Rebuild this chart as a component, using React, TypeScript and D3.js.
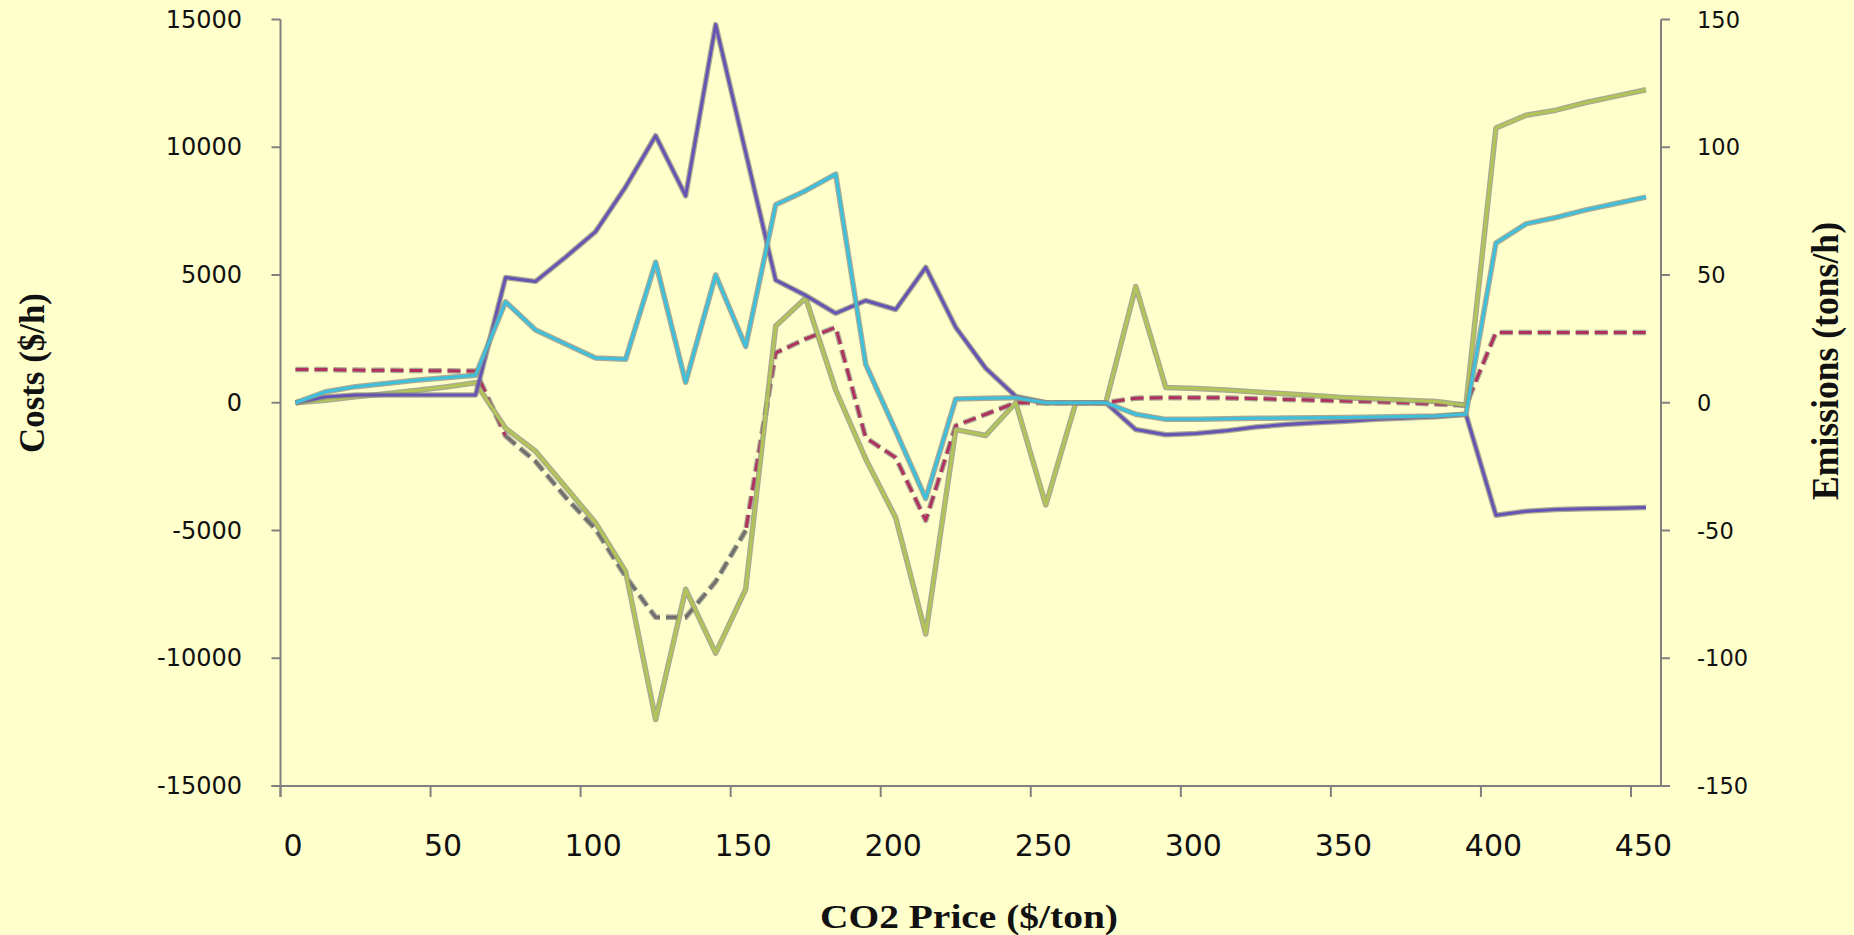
import React from "react";
import * as d3 from "d3";

// ---------- data ----------
const co2Price = [5, 15, 25, 35, 45, 55, 65, 75, 85, 95, 105, 115, 125, 135, 145, 155, 165, 175, 185, 195, 205, 215, 225, 235, 245, 255, 265, 275, 285, 295, 305, 315, 325, 335, 345, 355, 365, 375, 385, 395, 405, 415, 425, 435, 445, 455];

const costPurple = [0, 230, 300, 300, 300, 300, 300, 4900, 4750, 5700, 6700, 8450, 10450, 8100, 14800, 9800, 4800, 4200, 3500, 4000, 3650, 5300, 2950, 1350, 250, 0, 0, 0, -1050, -1250, -1200, -1100, -950, -850, -780, -720, -650, -600, -550, -450, -4400, -4250, -4180, -4150, -4130, -4100];

const costCyan = [0, 430, 630, 750, 880, 980, 1080, 3950, 2850, 2300, 1750, 1700, 5500, 800, 5000, 2200, 7750, 8300, 8950, 1500, -1100, -3750, 150, 180, 200, 0, 0, 0, -450, -650, -650, -630, -610, -600, -590, -580, -560, -540, -520, -450, 6250, 7000, 7250, 7550, 7800, 8050];

const costGreen = [0, 100, 230, 350, 480, 620, 780, -1000, -1900, -3300, -4700, -6600, -12400, -7300, -9800, -7300, 3000, 4100, 500, -2200, -4500, -9050, -1050, -1280, 0, -4000, 0, 0, 4550, 600, 560, 500, 420, 350, 270, 200, 150, 100, 50, -100, 10750, 11250, 11450, 11750, 12000, 12250];

const emissionRed = [13, 13, 12.8, 12.7, 12.6, 12.5, 12.4, -13, -23, -37, -49.5, -68, -84, -84, -70, -50, 19.5, 25, 29.5, -13.7, -21.5, -46, -9, -4.5, 0, 0, 0, 0, 1.8, 2, 2, 1.9, 1.6, 1.3, 1, 0.7, 0.4, 0, -0.5, -1, 27.5, 27.5, 27.5, 27.5, 27.5, 27.5];

const emissionGray = [null, null, null, null, null, null, null, -13, -23, -37, -49.5, -68, -84, -84, -70, -50, null, null, null, null, null, null, null, null, null, null, null, null, null, null, null, null, null, null, null, null, null, null, null, null, null, null, null, null, null, null];

const xTicks = [0, 50, 100, 150, 200, 250, 300, 350, 400, 450];
const yTicksLeft = [-15000, -10000, -5000, 0, 5000, 10000, 15000];
const yTicksRight = [-150, -100, -50, 0, 50, 100, 150];

const xTitle = "CO2 Price ($/ton)";
const yLeftTitle = "Costs ($/h)";
const yRightTitle = "Emissions (tons/h)";

// ---------- layout ----------
const W = 1854;
const H = 935;
const left = 280.5;
const right = 1661;
const top = 19.5;
const bottom = 786;
const BG = "#FFFFCC";

export default function App() {
  const x = d3.scaleLinear().domain([0, 460]).range([left, right]);
  const yL = d3.scaleLinear().domain([-15000, 15000]).range([bottom, top]);
  const yR = d3.scaleLinear().domain([-150, 150]).range([bottom, top]);

  const mk = (vals: (number | null)[], y: d3.ScaleLinear<number, number>) =>
    d3
      .line<number>()
      .defined((_, i) => vals[i] !== null && vals[i] !== undefined)
      .x((d) => x(d))
      .y((_, i) => y(vals[i] as number))(co2Price) || "";

  const series = [
    { d: mk(emissionRed, yR), color: "#b0305e", dash: "13,6", mask: false },
    { d: mk(emissionGray, yR), color: "#6e6e6e", dash: "13,6", mask: true },
    { d: mk(costGreen, yL), color: "#b2c458", dash: null, mask: false },
    { d: mk(costPurple, yL), color: "#6654b4", dash: null, mask: false },
    { d: mk(costCyan, yL), color: "#3ec0dc", dash: null, mask: false },
  ];

  const axisColor = "#808080";
  const tickFont = "'DejaVu Sans', Verdana, sans-serif";
  const titleFont = "'Liberation Serif', 'Times New Roman', serif";

  return (
    <svg
      width={W}
      height={H}
      style={{ position: "absolute", left: 0, top: 0, display: "block" }}
    >
      <rect x={0} y={0} width={W} height={H} fill={BG} />

      {/* series */}
      {series.map((s, i) => (
        <g key={i}>
          {s.mask && (
            <path d={s.d} fill="none" stroke={BG} strokeWidth={6} strokeLinejoin="round" />
          )}
          <path
            d={s.d}
            fill="none"
            stroke="#8c8c80"
            strokeOpacity={0.75}
            strokeWidth={5.5}
            strokeDasharray={s.dash || undefined}
            strokeLinejoin="round"
          />
          <path
            d={s.d}
            fill="none"
            stroke={s.color}
            strokeWidth={3}
            strokeDasharray={s.dash || undefined}
            strokeLinejoin="round"
          />
        </g>
      ))}

      {/* left axis */}
      <line x1={left} y1={top} x2={left} y2={bottom + 11} stroke={axisColor} strokeWidth={2} />
      {yTicksLeft.map((t) => (
        <g key={"l" + t}>
          <line x1={left - 9} x2={left} y1={yL(t)} y2={yL(t)} stroke={axisColor} strokeWidth={2} />
          <text
            x={242}
            y={yL(t)}
            textAnchor="end"
            dominantBaseline="central"
            fontFamily={tickFont}
            fontSize={24}
            fill="#111"
          >
            {t}
          </text>
        </g>
      ))}

      {/* right axis */}
      <line x1={right} y1={top} x2={right} y2={bottom} stroke={axisColor} strokeWidth={2} />
      {yTicksRight.map((t) => (
        <g key={"r" + t}>
          <line x1={right} x2={right + 9} y1={yR(t)} y2={yR(t)} stroke={axisColor} strokeWidth={2} />
          <text
            x={1697}
            y={yR(t)}
            textAnchor="start"
            dominantBaseline="central"
            fontFamily={tickFont}
            fontSize={22.5}
            fill="#111"
          >
            {t}
          </text>
        </g>
      ))}

      {/* bottom axis */}
      <line x1={left - 9} y1={bottom} x2={right + 9} y2={bottom} stroke={axisColor} strokeWidth={2} />
      {xTicks.map((t) => (
        <g key={"x" + t}>
          <line x1={x(t)} x2={x(t)} y1={bottom} y2={bottom + 11} stroke={axisColor} strokeWidth={2} />
          <text
            x={x(t) + 12.5}
            y={845}
            textAnchor="middle"
            dominantBaseline="central"
            fontFamily={tickFont}
            fontSize={30}
            fill="#111"
          >
            {t}
          </text>
        </g>
      ))}

      {/* titles */}
      <text
        x={969}
        y={928}
        textAnchor="middle"
        fontFamily={titleFont}
        fontWeight="bold"
        fontSize={33}
        textLength={298}
        lengthAdjust="spacingAndGlyphs"
        fill="#111"
      >
        {xTitle}
      </text>
      <text
        transform="translate(44,373) rotate(-90)"
        textAnchor="middle"
        fontFamily={titleFont}
        fontWeight="bold"
        fontSize={36}
        textLength={160}
        lengthAdjust="spacingAndGlyphs"
        fill="#111"
      >
        {yLeftTitle}
      </text>
      <text
        transform="translate(1838,361) rotate(-90)"
        textAnchor="middle"
        fontFamily={titleFont}
        fontWeight="bold"
        fontSize={38}
        textLength={278}
        lengthAdjust="spacingAndGlyphs"
        fill="#111"
      >
        {yRightTitle}
      </text>
    </svg>
  );
}
